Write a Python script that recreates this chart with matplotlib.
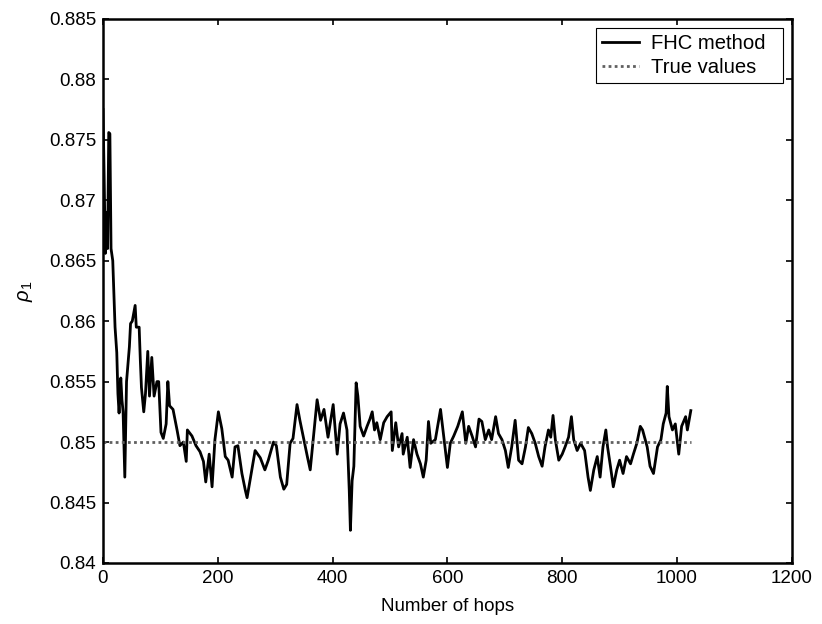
import numpy as np
import matplotlib.pyplot as plt

# valores (número de saltos, estimativa de rho_1)
hops = [0, 2, 4, 6, 8, 10, 12, 14, 17, 21, 24, 26, 28, 31, 33, 35, 38, 41, 46, 48,
        51, 56, 58, 63, 65, 67, 71, 74, 78, 81, 85, 89, 94, 97, 101, 105, 110, 113, 116, 122,
        129, 134, 140, 145, 147, 155, 162, 169, 175, 179, 185, 190, 195, 201, 207, 213, 218, 225, 230, 235,
        242, 248, 251, 256, 265, 274, 282, 288, 297, 302, 309, 315, 320, 326, 331, 338, 343, 349, 356, 361,
        366, 373, 379, 385, 392, 401, 408, 413, 419, 425, 429, 431, 434, 437, 441, 444, 448, 454, 460, 465,
        469, 473, 477, 483, 489, 495, 502, 504, 510, 515, 521, 523, 530, 535, 541, 547, 553, 558, 563, 567,
        571, 579, 588, 593, 600, 605, 611, 618, 626, 632, 637, 643, 649, 655, 660, 666, 672, 677, 684, 689,
        695, 701, 706, 712, 718, 724, 730, 736, 741, 747, 753, 759, 765, 770, 776, 780, 784, 788, 794, 800,
        805, 811, 816, 820, 826, 832, 839, 845, 849, 855, 861, 866, 871, 876, 879, 884, 889, 895, 900, 906,
        912, 919, 924, 930, 936, 940, 948, 953, 959, 966, 972, 976, 981, 983, 986, 992, 997, 1003, 1008, 1015,
        1018, 1024]
fhc = [0.8775, 0.872, 0.8656, 0.869, 0.866, 0.8756, 0.8755, 0.866, 0.8650, 0.8595, 0.8574, 0.854, 0.8524, 0.8553, 0.8535, 0.8525, 0.8471, 0.855, 0.8579, 0.8598,
       0.860, 0.8613, 0.8595, 0.8595, 0.8568, 0.8545, 0.8525, 0.854, 0.8575, 0.8538, 0.857, 0.8538, 0.855, 0.855, 0.8508, 0.8503, 0.8515, 0.855, 0.853, 0.8527,
       0.851, 0.8497, 0.850, 0.8484, 0.851, 0.8505, 0.8497, 0.8492, 0.8484, 0.8467, 0.849, 0.8463, 0.8502, 0.8525, 0.8511, 0.8488, 0.8485, 0.8471, 0.8496, 0.8497,
       0.8474, 0.846, 0.8454, 0.8468, 0.8493, 0.8487, 0.8477, 0.8485, 0.850, 0.8497, 0.8471, 0.8461, 0.8465, 0.8499, 0.8503, 0.8531, 0.8518, 0.8504, 0.8488, 0.8477,
       0.8501, 0.8535, 0.8518, 0.8527, 0.8504, 0.8531, 0.849, 0.8515, 0.8524, 0.851, 0.846, 0.8427, 0.8468, 0.848, 0.8549, 0.8538, 0.8513, 0.8505, 0.8513, 0.8519,
       0.8525, 0.851, 0.8516, 0.8502, 0.8516, 0.8521, 0.8525, 0.8493, 0.8516, 0.8496, 0.8507, 0.849, 0.8504, 0.8479, 0.8502, 0.849, 0.8482, 0.8471, 0.8485, 0.8517,
       0.8499, 0.8502, 0.8527, 0.8507, 0.8479, 0.8499, 0.8505, 0.8513, 0.8525, 0.8499, 0.8513, 0.8505, 0.8496, 0.8519, 0.8517, 0.8502, 0.851, 0.8502, 0.8521, 0.8507,
       0.8502, 0.8493, 0.8479, 0.8496, 0.8518, 0.8485, 0.8482, 0.8496, 0.8512, 0.8507, 0.8499, 0.8488, 0.848, 0.8496, 0.851, 0.8504, 0.8522, 0.8502, 0.8485, 0.849,
       0.8496, 0.8504, 0.8521, 0.8502, 0.8493, 0.8499, 0.8493, 0.8471, 0.846, 0.8477, 0.8488, 0.8471, 0.8496, 0.851, 0.8496, 0.848, 0.8463, 0.8477, 0.8485, 0.8474,
       0.8488, 0.8482, 0.849, 0.8499, 0.8513, 0.851, 0.8496, 0.848, 0.8474, 0.8496, 0.8502, 0.8515, 0.8524, 0.8546, 0.8521, 0.851, 0.8515, 0.849, 0.8513, 0.8521,
       0.851, 0.8526]
true_hops = [0, 1024]
true_rho = [0.85, 0.85]

x_ticks = [0, 200, 400, 600, 800, 1000, 1200]
y_ticks = [0.84, 0.845, 0.85, 0.855, 0.86, 0.865, 0.87, 0.875, 0.88, 0.885]

plt.rcParams['font.family'] = ['Liberation Sans', 'DejaVu Sans']
plt.rcParams['mathtext.fontset'] = 'custom'
plt.rcParams['mathtext.rm'] = 'Liberation Sans'
plt.rcParams['mathtext.it'] = 'Liberation Sans:italic'

fs = 13.5

fig = plt.figure(figsize=(8.22, 6.24), dpi=100)
ax = fig.add_axes([0.1253, 0.0978, 0.838, 0.872])

# espaços no fim imitam a margem direita da legenda do MATLAB
ax.plot(hops, fhc, color='black', lw=2.0, label='FHC method  ')
ax.plot(true_hops, true_rho, color='#606060', lw=2.0, ls=(0, (1, 1.2)), label='True values  ')

ax.set_xlim(0, 1200)
ax.set_ylim(0.84, 0.885)
ax.set_xticks(x_ticks)
ax.set_yticks(y_ticks)
ax.set_yticklabels([('%.3f' % v).rstrip('0') for v in y_ticks])
ax.tick_params(direction='in', length=4.5, width=1.2, labelsize=fs, top=True, right=True, pad=5)
for s in ax.spines.values():
    s.set_linewidth(1.8)

ax.set_xlabel('Number of hops', fontsize=fs, labelpad=8)
ax.set_ylabel(r'$\rho_1$', fontsize=fs + 1, labelpad=10)

leg = ax.legend(loc='upper right', bbox_to_anchor=(0.987, 0.9835), fontsize=14.6,
                fancybox=False, framealpha=1, edgecolor='black', handlelength=1.8,
                borderaxespad=0, borderpad=0.3, labelspacing=0.27, handletextpad=0.6)
leg.get_frame().set_linewidth(0.8)

plt.savefig('out.png', dpi=100)
